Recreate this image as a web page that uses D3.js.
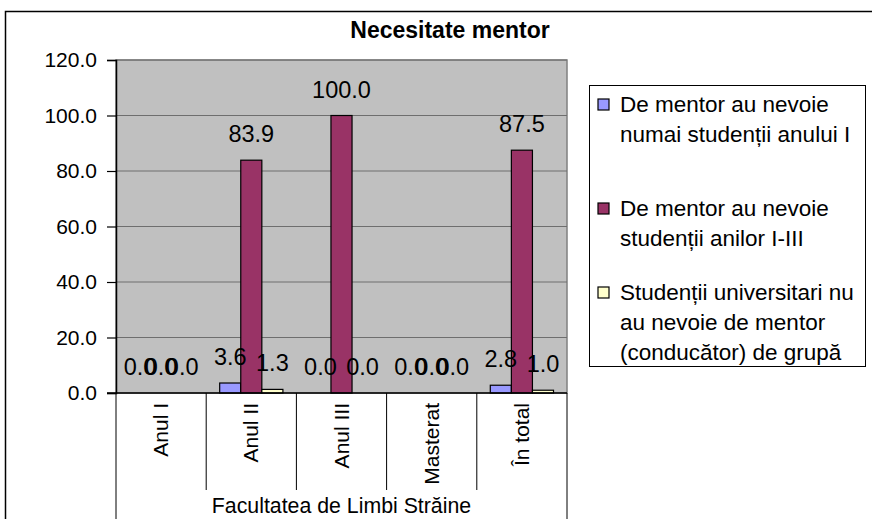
<!DOCTYPE html>
<html>
<head>
<meta charset="utf-8">
<script src="https://cdn.jsdelivr.net/npm/d3@7"></script>
<style>
  html, body { margin: 0; padding: 0; background: #fff; }
  svg { display: block; font-family: "Liberation Sans", Arial, sans-serif; }
</style>
</head>
<body>
<svg id="chart" width="872" height="519"></svg>
<script>
const title = "Necesitate mentor";
const categories = ["Anul I", "Anul II", "Anul III", "Masterat", "În total"];
const groupLabel = "Facultatea de Limbi Străine";
const seriesNames = [
  ["De mentor au nevoie", "numai studenții anului I"],
  ["De mentor au nevoie", "studenții anilor I-III"],
  ["Studenții universitari nu", "au nevoie de mentor", "(conducător) de grupă"]
];
const seriesA = [0.0, 3.6, 0.0, 0.0, 2.8];
const seriesB = [0.0, 83.9, 100.0, 0.0, 87.5];
const seriesC = [0.0, 1.3, 0.0, 0.0, 1.0];
const yTicks = [0, 20, 40, 60, 80, 100, 120];
const colors = ["#9999FF", "#993366", "#FFFFCC"];

const allSeries = [seriesA, seriesB, seriesC];
const svg = d3.select("#chart");

// outer frame
svg.append("rect").attr("x", 5.5).attr("y", 11.5).attr("width", 900).attr("height", 600)
  .attr("fill", "#fff").attr("stroke", "#000").attr("stroke-width", 1.5);

const plot = {left: 116, right: 567, top: 60, bottom: 393};

svg.append("text").attr("x", 450).attr("y", 38).attr("text-anchor", "middle")
  .attr("font-size", 23).attr("font-weight", "bold").text(title);

const x = d3.scaleBand().domain(categories).range([plot.left, plot.right]).paddingInner(0).paddingOuter(0);
const xi = d3.scaleBand().domain([0, 1, 2]).range([0, x.bandwidth()]).paddingOuter(0.64).paddingInner(0);
const y = d3.scaleLinear().domain([0, 120]).range([plot.bottom, plot.top]);

// plot area
svg.append("rect").attr("x", plot.left).attr("y", plot.top)
  .attr("width", plot.right - plot.left).attr("height", plot.bottom - plot.top)
  .attr("fill", "#C0C0C0").attr("stroke", "#808080").attr("stroke-width", 1.5);

// gridlines
svg.append("g").selectAll("line").data(yTicks.filter(d => d > 0)).join("line")
  .attr("x1", plot.left).attr("x2", plot.right)
  .attr("y1", d => y(d)).attr("y2", d => y(d))
  .attr("stroke", "#6e6e6e").attr("stroke-width", 1);

// y axis
const yAxis = d3.axisLeft(y).tickValues(yTicks).tickFormat(d3.format(".1f")).tickSize(9).tickPadding(10);
const gy = svg.append("g").attr("transform", `translate(${plot.left},0)`).call(yAxis);
gy.select(".domain").attr("stroke", "#000").attr("stroke-width", 1.5);
gy.selectAll(".tick line").attr("stroke", "#000").attr("stroke-width", 1.2);
gy.selectAll(".tick text").attr("font-size", 21).attr("fill", "#000")
  .attr("font-family", "Liberation Sans, Arial, sans-serif");

// bars
const groups = svg.append("g").selectAll("g").data(categories).join("g")
  .attr("transform", d => `translate(${x(d)},0)`);
groups.each(function(cat, ci) {
  const g = d3.select(this);
  allSeries.forEach((s, si) => {
    const v = s[ci];
    g.append("rect")
      .attr("x", xi(si)).attr("y", y(v))
      .attr("width", xi.bandwidth()).attr("height", y(0) - y(v))
      .attr("fill", colors[si]).attr("stroke", "#000").attr("stroke-width", 1.2);
  });
  allSeries.forEach((s, si) => {
    const v = s[ci];
    g.append("text")
      .attr("x", xi(si) + xi.bandwidth() / 2).attr("y", y(v) - 18)
      .attr("text-anchor", "middle").attr("font-size", 23.5)
      .text(d3.format(".1f")(v));
  });
});

// baseline
svg.append("line").attr("x1", 107).attr("x2", plot.right)
  .attr("y1", plot.bottom).attr("y2", plot.bottom)
  .attr("stroke", "#000").attr("stroke-width", 1.5);

// category separators
const bounds = categories.map(c => x(c)).concat([plot.right]);
svg.append("g").selectAll("line").data(bounds).join("line")
  .attr("x1", d => d).attr("x2", d => d)
  .attr("y1", plot.bottom)
  .attr("y2", (d, i) => (i === 0 || i === bounds.length - 1) ? 519 : 490)
  .attr("stroke", "#000").attr("stroke-width", 1);

// category labels
svg.append("g").selectAll("text").data(categories).join("text")
  .attr("transform", d => `translate(${x(d) + x.bandwidth() / 2 + 7},403) rotate(-90)`)
  .attr("text-anchor", "end").attr("font-size", 21)
  .text(d => d);

svg.append("text").attr("x", (plot.left + plot.right) / 2).attr("y", 513)
  .attr("text-anchor", "middle").attr("font-size", 21.3).text(groupLabel);

// legend
const legend = svg.append("g");
legend.append("rect").attr("x", 589.5).attr("y", 85.5).attr("width", 276).attr("height", 281)
  .attr("fill", "#fff").attr("stroke", "#000").attr("stroke-width", 1);
const entryTop = [104, 208, 292];
seriesNames.forEach((lines, i) => {
  legend.append("rect").attr("x", 598).attr("y", entryTop[i] - 5)
    .attr("width", 11).attr("height", 11)
    .attr("fill", colors[i]).attr("stroke", "#000").attr("stroke-width", 1.2);
  lines.forEach((t, li) => {
    legend.append("text").attr("x", 620).attr("y", entryTop[i] + li * 30 + 8)
      .attr("font-size", 22.5).text(t);
  });
});
</script>
</body>
</html>
